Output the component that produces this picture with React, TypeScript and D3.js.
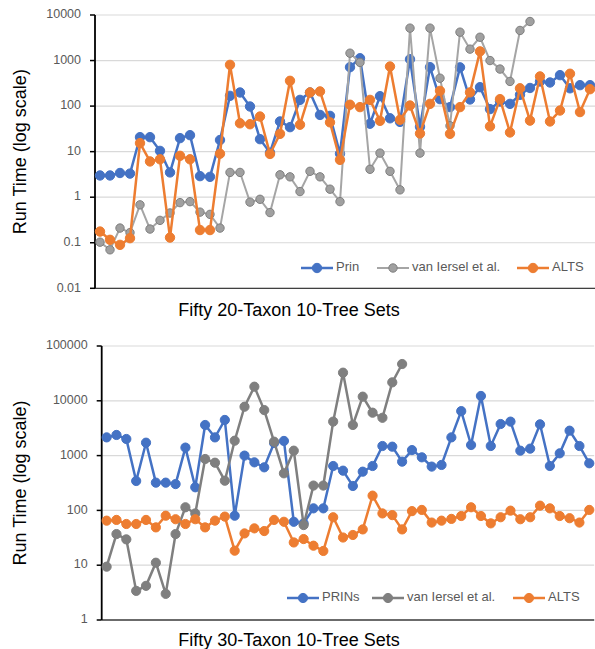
import React from 'react';
import * as d3 from 'd3';

const width = 595;
const height = 649;

// fifty tree sets per panel
const sets = d3.range(1, 51);

// top panel: 20 taxa
const topPrin = [3.0, 3.0, 3.4, 3.3, 20.8, 20.8, 10.4, 3.5, 19.8, 23, 2.9, 2.8, 18, 168, 199, 98, 18.8, 9.5, 46, 34.5, 137, 199, 64, 61, 9, 716, 1123, 41, 165, 54, 45, 1070, 35, 716, 142, 95, 710, 140, 260, 86, 126, 112, 177, 250, 347, 330, 478, 246, 288, 288];
const topVan = [0.103, 0.07, 0.21, 0.167, 0.68, 0.2, 0.31, 0.45, 0.76, 0.8, 0.47, 0.42, 0.21, 3.5, 3.5, 0.78, 0.9, 0.46, 3.1, 2.8, 1.33, 3.7, 2.8, 1.5, 0.8, 1450, 910, 4.1, 9.3, 3.7, 1.45, 5150, 9.3, 5150, 410, 37, 4200, 1780, 3250, 1000, 650, 348, 4580, 7200];
const topAlts = [0.176, 0.116, 0.09, 0.126, 15.4, 6.1, 6.8, 0.13, 8.1, 6.8, 0.19, 0.19, 9, 805, 42, 40, 59, 8.9, 24.6, 359, 39, 199, 210, 44, 6.6, 107, 95, 137, 47.5, 740, 50, 103, 25, 112, 216, 24.6, 95, 200, 1590, 36, 142, 26.4, 246, 48, 448, 46, 80, 513, 74, 235];
const topTicks = [0.01, 0.1, 1, 10, 100, 1000, 10000];

// bottom panel: 30 taxa
const botPrin = [2150, 2380, 2010, 344, 1720, 321, 321, 302, 1400, 264, 3620, 2150, 4470, 80, 1000, 753, 611, 1700, 1850, 62, 58, 109, 109, 646, 531, 279, 509, 646, 1497, 1455, 776, 1260, 930, 630, 675, 2150, 6480, 1560, 12250, 1497, 3770, 4170, 1230, 1340, 3720, 646, 1100, 2850, 1497, 724];
const botVan = [9.4, 37, 29.6, 3.4, 4.2, 11.1, 3.0, 37, 114, 88, 867, 742, 348, 1870, 7800, 18100, 6770, 1795, 475, 1230, 54, 284, 284, 4170, 32600, 3620, 11900, 6070, 4900, 21700, 46900];
const botAlts = [65, 67, 56.5, 56.5, 67, 49, 80, 69, 56.5, 69, 49, 65, 77, 18.4, 38, 47, 42, 67, 62, 26, 30, 22.7, 18.2, 75, 32, 35.6, 45, 186, 88, 82, 45, 97, 102, 60, 65, 70, 79, 114, 79, 58, 75, 99, 69, 75, 122, 109, 79, 72, 60, 102];
const botTicks = [1, 10, 100, 1000, 10000, 100000];

const font = 'Arial, "Liberation Sans", sans-serif';
const blue = '#4472C4';
const orange = '#ED7D31';

const Panel = ({ left, right, top, bottom, domain, ticks, series, legend, title, titleY }) => {
  const x = d3.scaleBand().domain(sets).range([left, right]);
  const y = d3.scaleLog().domain(domain).range([bottom, top]);
  const cx = i => x(sets[i]) + x.bandwidth() / 2;
  const line = d3.line().x((d, i) => cx(i)).y(d => y(d));

  return (
    <g>
      {ticks.map(t => (
        <g key={t}>
          <line x1={left} x2={right} y1={y(t)} y2={y(t)} stroke="#D9D9D9" strokeWidth={1.2} />
          <line x1={left - 5} x2={left} y1={y(t)} y2={y(t)} stroke="#000" strokeWidth={1.5} />
          <text x={left - 14} y={y(t)} textAnchor="end" dominantBaseline="middle"
            fontSize={12.5} fill="#595959" fontFamily={font}>{String(t)}</text>
        </g>
      ))}
      <line x1={left} x2={right} y1={bottom} y2={bottom} stroke="#404040" strokeWidth={1.3} />
      <line x1={left} x2={left} y1={top} y2={bottom} stroke="#000" strokeWidth={1.8} />
      {series.map(s => (
        <g key={s.name}>
          <path d={line(s.values)} fill="none" stroke={s.color} strokeWidth={s.width} />
          {s.values.map((v, i) => (
            <circle key={i} cx={cx(i)} cy={y(v)} r={s.r} fill={s.fill} stroke={s.edge} strokeWidth={1} />
          ))}
        </g>
      ))}
      {series.map((s, k) => (
        <g key={'lg' + s.name}>
          <line x1={legend.x[k] - 16} x2={legend.x[k] + 16} y1={legend.y} y2={legend.y} stroke={s.color} strokeWidth={s.width} />
          <circle cx={legend.x[k]} cy={legend.y} r={s.r} fill={s.fill} stroke={s.edge} strokeWidth={1} />
          <text x={legend.x[k] + 19} y={legend.y} dominantBaseline="middle" fontSize={13}
            fill="#595959" fontFamily={font}>{s.name}</text>
        </g>
      ))}
      <text x={289} y={titleY} textAnchor="middle" fontSize={18} fill="#000" fontFamily={font}>{title}</text>
      <text transform={`translate(21,${(top + bottom) / 2}) rotate(-90)`} textAnchor="middle"
        dominantBaseline="middle" fontSize={18} fill="#000" fontFamily={font}>Run Time (log scale)</text>
    </g>
  );
};

const App = () => {
  const topSeries = [
    { name: 'Prin', values: topPrin, color: blue, fill: blue, edge: blue, r: 4.7, width: 2.5 },
    { name: 'van Iersel et al.', values: topVan, color: '#A5A5A5', fill: '#A0A0A0', edge: '#7F7F7F', r: 4.2, width: 2 },
    { name: 'ALTS', values: topAlts, color: orange, fill: orange, edge: orange, r: 4.7, width: 2.5 },
  ];
  const botSeries = [
    { name: 'PRINs', values: botPrin, color: blue, fill: blue, edge: blue, r: 4.6, width: 2.5 },
    { name: 'van Iersel et al.', values: botVan, color: '#7F7F7F', fill: '#7F7F7F', edge: '#7F7F7F', r: 4.6, width: 2.5 },
    { name: 'ALTS', values: botAlts, color: orange, fill: orange, edge: orange, r: 4.6, width: 2.5 },
  ];
  return (
    <svg width={width} height={height} style={{ position: 'absolute', left: 0, top: 0, background: '#fff' }}>
      <Panel left={95} right={595} top={15} bottom={288.3} domain={[0.01, 10000]} ticks={topTicks}
        series={topSeries} legend={{ x: [317, 393, 533], y: 268 }}
        title="Fifty 20-Taxon 10-Tree Sets" titleY={316} />
      <Panel left={101.7} right={594.2} top={346} bottom={620} domain={[1, 100000]} ticks={botTicks}
        series={botSeries} legend={{ x: [303, 388, 529], y: 598 }}
        title="Fifty 30-Taxon 10-Tree Sets" titleY={646} />
    </svg>
  );
};

export default App;
